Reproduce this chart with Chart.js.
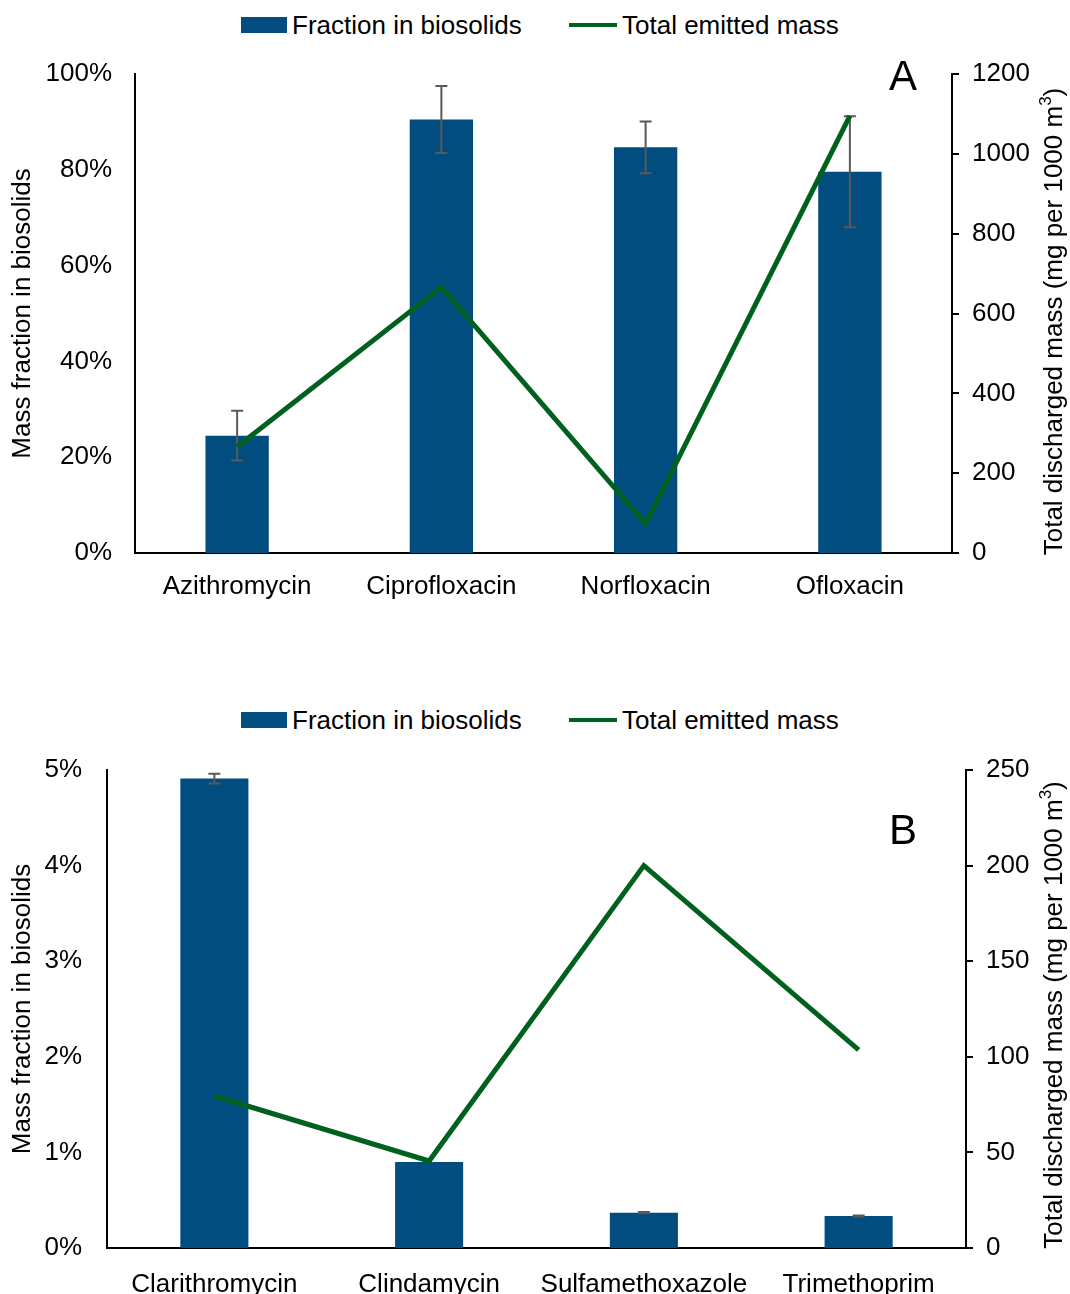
<!DOCTYPE html>
<html>
<head>
<meta charset="utf-8">
<script src="https://cdn.jsdelivr.net/npm/chart.js@4.4.1/dist/chart.umd.min.js"></script>
<style>
  html, body { margin: 0; padding: 0; background: #fff; overflow: hidden; }
  body { width: 1070px; height: 1294px; position: relative; font-family: "Liberation Sans", Arial, sans-serif; }
  canvas { position: absolute; left: 0; }
  #chartA { top: 0; }
  #chartB { top: 650px; }
  .legend { position: absolute; left: 0; width: 1070px; height: 30px; font-size: 26px; line-height: 30px; color: #000; }
  .legend span { position: absolute; white-space: nowrap; }
  .legend .box { left: 241px; top: 7px; width: 46px; height: 16px; background: #014d80; }
  .legend .line { left: 569px; top: 13px; width: 48px; height: 4px; background: #00611e; }
  .legend .t1 { left: 292px; top: 0; }
  .legend .t2 { left: 622px; top: 0; }
</style>
</head>
<body>
<div class="legend" style="top:10px"><span class="box"></span><span class="t1">Fraction in biosolids</span><span class="line"></span><span class="t2">Total emitted mass</span></div>
<canvas id="chartA" width="1070" height="640"></canvas>
<div class="legend" style="top:705px"><span class="box"></span><span class="t1">Fraction in biosolids</span><span class="line"></span><span class="t2">Total emitted mass</span></div>
<canvas id="chartB" width="1070" height="644"></canvas>
<script>
// panel A
const drugsA = ["Azithromycin", "Ciprofloxacin", "Norfloxacin", "Ofloxacin"];
const fractionA = [24.5, 90.5, 84.7, 79.6];
const fractionErrA = [5.2, 7.0, 5.4, 11.6];
const emittedA = [266, 666, 73, 1095];
const pctTicksA = [0, 20, 40, 60, 80, 100];
const massTicksA = [0, 200, 400, 600, 800, 1000, 1200];

// panel B
const drugsB = ["Clarithromycin", "Clindamycin", "Sulfamethoxazole", "Trimethoprim"];
const fractionB = [4.91, 0.90, 0.37, 0.335];
const fractionErrB = [0.05, 0, 0.006, 0.005];
const emittedB = [79.5, 45.5, 200, 103.6];
const pctTicksB = [0, 1, 2, 3, 4, 5];
const massTicksB = [0, 50, 100, 150, 200, 250];

const blue = "#014d80";
const green = "#00611e";
const fontFamily = '"Liberation Sans", Arial, sans-serif';
const tickFont = { family: fontFamily, size: 26 };

// error bars on the bar dataset
const errorBars = {
  id: "errorBars",
  afterDatasetDraw(chart, args, opts) {
    if (args.index !== 0) return;
    const meta = chart.getDatasetMeta(0);
    const yScale = chart.scales.y;
    const values = chart.data.datasets[0].data;
    const ctx = chart.ctx;
    ctx.save();
    ctx.strokeStyle = "#595959";
    ctx.lineWidth = 2;
    meta.data.forEach((bar, i) => {
      const err = opts.errors[i];
      if (!err) return;
      const yTop = yScale.getPixelForValue(values[i] + err);
      const yBot = yScale.getPixelForValue(values[i] - err);
      ctx.beginPath();
      ctx.moveTo(bar.x, yTop);
      ctx.lineTo(bar.x, yBot);
      ctx.moveTo(bar.x - 6, yTop);
      ctx.lineTo(bar.x + 6, yTop);
      ctx.moveTo(bar.x - 6, yBot);
      ctx.lineTo(bar.x + 6, yBot);
      ctx.stroke();
    });
    ctx.restore();
  }
};

// right axis title (reads bottom to top, with superscript) and panel letter
const extras = {
  id: "extras",
  afterDraw(chart, args, opts) {
    const ctx = chart.ctx;
    const area = chart.chartArea;
    ctx.save();
    ctx.fillStyle = "#000";
    ctx.textBaseline = "middle";
    const main = "Total discharged mass (mg per 1000 m";
    ctx.font = "26px " + fontFamily;
    const w1 = ctx.measureText(main).width;
    const w3 = ctx.measureText(")").width;
    ctx.font = "17px " + fontFamily;
    const w2 = ctx.measureText("3").width;
    const total = w1 + w2 + w3;
    ctx.translate(opts.titleX, (area.top + area.bottom) / 2 + opts.titleShift);
    ctx.rotate(-Math.PI / 2);
    let x = -total / 2;
    ctx.textAlign = "left";
    ctx.font = "26px " + fontFamily;
    ctx.fillText(main, x, 0);
    x += w1;
    ctx.font = "17px " + fontFamily;
    ctx.fillText("3", x, -9);
    x += w2;
    ctx.font = "26px " + fontFamily;
    ctx.fillText(")", x, 0);
    ctx.restore();

    ctx.save();
    ctx.fillStyle = "#000";
    ctx.font = "42px " + fontFamily;
    ctx.textAlign = "center";
    ctx.textBaseline = "middle";
    ctx.fillText(opts.letter, opts.letterX, opts.letterY);
    ctx.restore();
  }
};

function makeChart(id, o) {
  return new Chart(document.getElementById(id), {
    type: "bar",
    data: {
      labels: o.categories,
      datasets: [
        {
          type: "bar",
          label: "Fraction in biosolids",
          data: o.fraction,
          yAxisID: "y",
          backgroundColor: blue,
          borderWidth: 0,
          barPercentage: 1,
          categoryPercentage: o.barShare,
          order: 2
        },
        {
          type: "line",
          label: "Total emitted mass",
          data: o.emitted,
          yAxisID: "y1",
          borderColor: green,
          borderWidth: 5,
          pointRadius: 0,
          tension: 0,
          fill: false,
          order: 1
        }
      ]
    },
    options: {
      responsive: false,
      animation: false,
      layout: { padding: { top: o.top, left: 0, right: 0, bottom: 0 } },
      plugins: {
        legend: { display: false },
        tooltip: { enabled: false },
        errorBars: { errors: o.errors },
        extras: { titleX: 1055, titleShift: o.titleShift, letter: o.letter, letterX: 903, letterY: o.letterY }
      },
      scales: {
        x: {
          grid: { display: false },
          border: { display: true, color: "#000", width: 2 },
          ticks: { color: "#000", font: tickFont, padding: o.xPad, maxRotation: 0, autoSkip: false },
          afterFit: (s) => { s.height = o.xHeight; }
        },
        y: {
          position: "left",
          min: 0,
          max: o.pctTicks[o.pctTicks.length - 1],
          afterBuildTicks: (s) => { s.ticks = o.pctTicks.map((v) => ({ value: v })); },
          grid: { display: false },
          border: { display: true, color: "#000", width: 2 },
          ticks: { color: "#000", font: tickFont, padding: o.leftPad, callback: (v) => v + "%" },
          title: { display: true, text: "Mass fraction in biosolids", color: "#000", font: tickFont, padding: { top: 7, bottom: 0 } },
          afterFit: (s) => { s.width = o.left; }
        },
        y1: {
          position: "right",
          min: 0,
          max: o.massTicks[o.massTicks.length - 1],
          afterBuildTicks: (s) => { s.ticks = o.massTicks.map((v) => ({ value: v })); },
          grid: { drawOnChartArea: false, drawTicks: true, tickLength: 7, color: "#000", lineWidth: 2 },
          border: { display: true, color: "#000", width: 2 },
          ticks: { color: "#000", font: tickFont, padding: 13, callback: (v) => String(v) },
          afterFit: (s) => { s.width = 1070 - o.right; }
        }
      }
    },
    plugins: [errorBars, extras]
  });
}

makeChart("chartA", {
  categories: drugsA, fraction: fractionA, errors: fractionErrA, emitted: emittedA,
  pctTicks: pctTicksA, massTicks: massTicksA,
  top: 74, left: 135, right: 952, xHeight: 640 - 553, leftPad: 15, xPad: 10,
  barShare: 0.31, titleShift: 8, letter: "A", letterY: 78
});

makeChart("chartB", {
  categories: drugsB, fraction: fractionB, errors: fractionErrB, emitted: emittedB,
  pctTicks: pctTicksB, massTicks: massTicksB,
  top: 120, left: 107, right: 966, xHeight: 644 - 598, leftPad: 17, xPad: 13,
  barShare: 0.317, titleShift: 6, letter: "B", letterY: 182
});
</script>
</body>
</html>
